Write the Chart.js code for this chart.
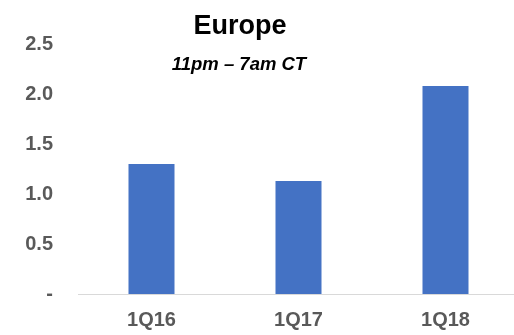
<!DOCTYPE html>
<html>
<head>
<meta charset="utf-8">
<script src="https://cdn.jsdelivr.net/npm/chart.js@4/dist/chart.umd.min.js"></script>
<style>
  html, body { margin: 0; padding: 0; background: #fff; overflow: hidden; }
  /* a little wider than the window so the last category runs off the edge like the original */
  #wrap { width: 519px; height: 335px; }
</style>
</head>
<body>
<div id="wrap"><canvas id="europe-chart"></canvas></div>
<script>
const quarters = ["1Q16", "1Q17", "1Q18"];
const europeValues = [1.3, 1.13, 2.08];
const chartTitle = "Europe";
const chartSubtitle = "11pm \u2013 7am CT";

const fontFamily = '"Liberation Sans", Arial, sans-serif';

// title + subtitle sit over the plot, left of centre
const titlePlugin = {
  id: "titleText",
  afterDraw(chart) {
    const ctx = chart.ctx;
    ctx.save();
    ctx.fillStyle = "#000";
    ctx.textAlign = "center";
    ctx.textBaseline = "alphabetic";
    ctx.font = "bold 27px " + fontFamily;
    ctx.fillText(chartTitle, 240, 34);
    ctx.font = "italic bold 18.5px " + fontFamily;
    ctx.fillText(chartSubtitle, 239, 70);
    ctx.restore();
  },
};

const europeCtx = document.getElementById("europe-chart");

let europeChart = new Chart(europeCtx, {
  type: "bar",
  plugins: [titlePlugin],
  data: {
    labels: quarters,
    datasets: [
      {
        data: europeValues,
        backgroundColor: "#4472C4",
        barPercentage: 0.313,
        categoryPercentage: 1,
      },
    ],
  },
  options: {
    responsive: true,
    maintainAspectRatio: false,
    animation: false,
    layout: { padding: { top: 44, left: 0, right: 0, bottom: 0 } },
    plugins: {
      legend: { display: false },
      tooltip: { enabled: false },
    },
    scales: {
      x: {
        grid: { display: false },
        border: { display: true, color: "#d9d9d9", width: 1 },
        ticks: {
          color: "#595959",
          padding: 6,
          font: { family: fontFamily, size: 20, weight: "bold" },
        },
        afterFit(scale) {
          scale.height = 41;
        },
      },
      y: {
        min: 0,
        max: 2.5,
        grid: { display: false, drawTicks: false },
        border: { display: false },
        ticks: {
          stepSize: 0.5,
          color: "#595959",
          padding: 25,
          font: { family: fontFamily, size: 20, weight: "bold" },
          callback: function (value) {
            return value === 0 ? "-" : value.toFixed(1);
          },
        },
        afterFit(scale) {
          scale.width = 78;
        },
      },
    },
  },
});
</script>
</body>
</html>
